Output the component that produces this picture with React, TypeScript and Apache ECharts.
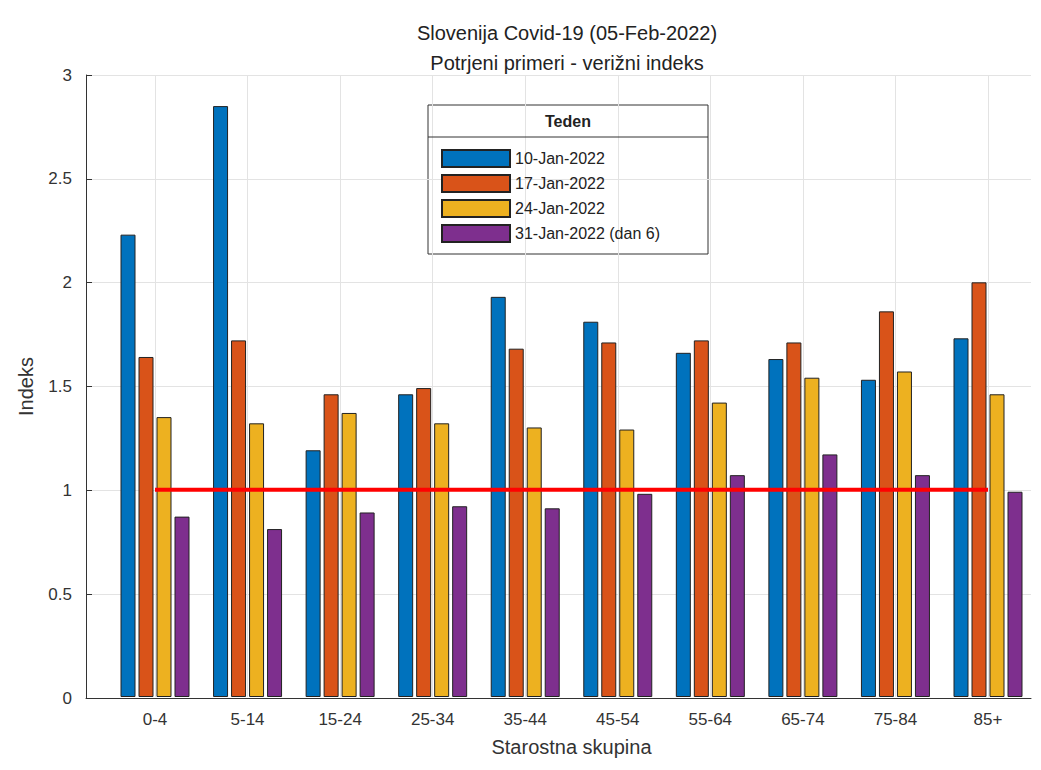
import React, { useEffect, useRef } from 'react';
import * as echarts from 'echarts';

const categories = ['0-4', '5-14', '15-24', '25-34', '35-44', '45-54', '55-64', '65-74', '75-84', '85+'];
const weeks = ['10-Jan-2022', '17-Jan-2022', '24-Jan-2022', '31-Jan-2022 (dan 6)'];
const colors = ['#0072BD', '#D95319', '#EDB120', '#7E2F8E'];
const jan10 = [2.23, 2.85, 1.19, 1.46, 1.93, 1.81, 1.66, 1.63, 1.53, 1.73];
const jan17 = [1.64, 1.72, 1.46, 1.49, 1.68, 1.71, 1.72, 1.71, 1.86, 2.0];
const jan24 = [1.35, 1.32, 1.37, 1.32, 1.30, 1.29, 1.42, 1.54, 1.57, 1.46];
const jan31 = [0.87, 0.81, 0.89, 0.92, 0.91, 0.98, 1.07, 1.17, 1.07, 0.99];
const reference = categories.map(() => 1);

export default function App() {
  const ref = useRef<HTMLDivElement | null>(null);

  useEffect(() => {
    if (!ref.current) return;
    const chart = echarts.init(ref.current, undefined, { renderer: 'svg' });
    const font = '"Liberation Sans", Arial, sans-serif';
    const seriesData = [jan10, jan17, jan24, jan31];
    chart.setOption({
      animation: false,
      textStyle: { fontFamily: font },
      title: {
        text: 'Slovenija Covid-19 (05-Feb-2022)\nPotrjeni primeri - verižni indeks',
        left: 554, top: 5, textAlign: 'center',
        textStyle: { fontSize: 20, fontWeight: 'normal', color: '#222', lineHeight: 30, fontFamily: font },
      },
      grid: [
        { left: 147, right: 45, top: 67, bottom: 64 },
        { left: 77, right: 2, top: 67, bottom: 64 },
      ],
      legend: {
        data: weeks, orient: 'vertical', left: 428, top: 136,
        itemWidth: 68, itemHeight: 17, itemGap: 6,
        icon: 'rect',
        textStyle: { fontSize: 16, color: '#222' },
      },
      graphic: [
        { type: 'rect', shape: { x: 420, y: 97, width: 280, height: 149 }, style: { fill: '#fff', stroke: '#333', lineWidth: 1 }, z: 0 },
        { type: 'line', shape: { x1: 420, y1: 129, x2: 700, y2: 129 }, style: { stroke: '#333', lineWidth: 1 }, z: 10 },
        { type: 'text', x: 560, y: 113, style: { text: 'Teden', fontSize: 16, fontWeight: 'bold', fill: '#222', align: 'center', verticalAlign: 'middle', fontFamily: font }, z: 10 },
      ],
      xAxis: [
        {
          type: 'category', data: categories, gridIndex: 0, boundaryGap: false,
          name: 'Starostna skupina', nameLocation: 'middle', nameGap: 40,
          nameTextStyle: { fontSize: 20, color: '#333' },
          axisLine: { show: false },
          axisTick: { show: false },
          axisLabel: { fontSize: 17, color: '#333', margin: 14 },
          splitLine: { show: true, lineStyle: { color: '#e3e3e3' } },
        },
        { type: 'value', gridIndex: 1, min: 0, max: 1, show: true, axisLabel: { show: false }, axisTick: { show: false }, splitLine: { show: false }, axisLine: { lineStyle: { color: '#333' } } },
      ],
      yAxis: [
        { type: 'value', gridIndex: 0, min: 0, max: 3, show: false },
        {
          type: 'value', gridIndex: 1, min: 0, max: 3, interval: 0.5,
          name: 'Indeks', nameLocation: 'middle', nameGap: 50,
          nameTextStyle: { fontSize: 20, color: '#333' },
          axisLine: { show: true, lineStyle: { color: '#333' } },
          axisTick: { show: true, inside: true, length: 6 },
          axisLabel: { fontSize: 17, color: '#333', margin: 14 },
          splitLine: { lineStyle: { color: '#e3e3e3' } },
        },
      ],
      series: [
        ...seriesData.map((d, i) => ({
          name: weeks[i], type: 'bar', data: d, barWidth: 15, barGap: '20%', clip: false,
          xAxisIndex: 0, yAxisIndex: 0, z: 3,
          itemStyle: { color: colors[i], borderColor: '#222', borderWidth: 1 },
        })),
        {
          name: 'ref', type: 'line', data: reference, symbol: 'none', xAxisIndex: 0, yAxisIndex: 0,
          lineStyle: { color: '#FF0000', width: 4 }, z: 5,
        },
      ],
    });
    return () => chart.dispose();
  }, []);

  return <div ref={ref} style={{ width: 1025, height: 754 }} />;
}
